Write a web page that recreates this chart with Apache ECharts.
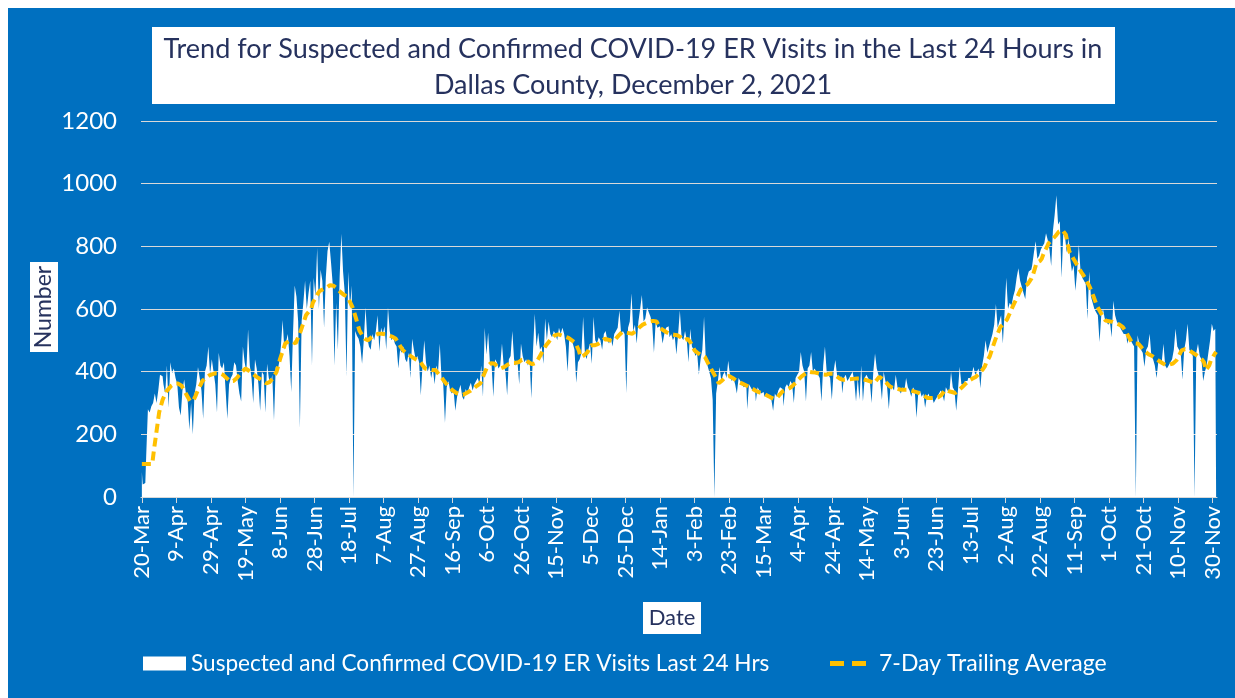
<!DOCTYPE html>
<html><head><meta charset="utf-8">
<script src="https://cdn.jsdelivr.net/npm/echarts@6/dist/echarts.min.js"></script>
<style>
html,body{margin:0;padding:0;background:#ffffff;width:1235px;height:698px;overflow:hidden}
#c{position:absolute;left:8px;top:8px;width:1227px;height:690px}
</style></head><body><div id="c"></div>
<script>
const startDate = '2020-03-20';
const dayCount = 623;
const tickLabels = ['20-Mar','9-Apr','29-Apr','19-May','8-Jun','28-Jun','18-Jul','7-Aug','27-Aug','16-Sep','6-Oct','26-Oct','15-Nov','5-Dec','25-Dec','14-Jan','3-Feb','23-Feb','15-Mar','4-Apr','24-Apr','14-May','3-Jun','23-Jun','13-Jul','2-Aug','22-Aug','11-Sep','1-Oct','21-Oct','10-Nov','30-Nov'];
const yTicks = [0, 200, 400, 600, 800, 1000, 1200];

const dailyVisits = [
80,40,45,130,280,270,290,300,330,300,
340,390,385,360,330,420,285,430,395,410,
380,360,285,260,340,375,330,310,215,300,
200,330,360,415,380,340,250,400,420,480,
390,440,400,360,270,460,420,410,430,340,
250,360,380,390,430,420,370,330,305,480,
430,400,535,420,380,300,440,410,360,275,
400,390,270,425,380,360,390,245,415,400,
430,480,565,470,495,520,450,335,520,675,
640,560,220,560,620,690,600,650,690,420,
700,640,795,600,725,690,540,700,785,815,
750,680,420,620,470,700,840,720,650,385,
720,600,675,0,530,515,505,480,425,500,
605,510,480,470,520,500,530,580,465,540,
520,545,470,605,530,500,510,490,480,410,
470,460,480,440,430,460,380,505,470,440,
450,430,325,420,500,430,400,420,380,410,
360,420,400,490,380,360,237,350,370,340,
330,340,275,320,340,358,320,310,345,330,
350,365,340,360,370,380,360,420,320,540,
455,525,430,420,320,440,430,410,420,490,
420,400,325,440,450,530,440,420,430,360,
490,450,430,440,420,440,315,470,585,480,
525,470,480,425,570,500,560,520,510,530,
520,500,540,520,540,520,480,400,510,500,
490,470,365,430,440,460,575,460,440,470,
490,425,575,500,490,510,500,470,520,530,
500,490,510,480,520,530,540,595,520,530,
520,332,540,560,650,530,550,490,560,600,
645,560,570,605,590,575,550,460,560,540,
545,530,490,520,540,545,510,520,500,515,
455,520,595,510,500,530,500,430,537,480,
470,450,460,390,440,470,575,440,420,400,
380,310,0,330,370,415,370,390,400,380,
435,390,370,380,360,330,380,370,360,350,
355,280,360,350,340,345,305,350,340,330,
335,320,330,315,320,310,275,330,320,340,
350,345,290,350,360,350,370,360,300,380,
390,400,463,420,400,305,410,420,463,400,
410,400,390,380,305,420,480,400,390,380,
310,400,437,390,380,385,330,380,390,370,
380,390,400,370,305,380,310,420,305,380,
390,380,370,300,400,458,410,390,370,310,
400,370,350,280,360,350,340,390,350,340,
330,350,340,380,350,340,320,350,340,253,
330,340,320,330,285,320,330,310,320,300,
310,320,330,340,330,305,350,340,330,400,
350,340,275,340,416,360,360,370,370,380,
380,390,416,390,400,410,347,420,450,500,
460,480,500,520,550,616,540,560,580,490,
590,700,600,620,610,640,660,700,730,690,
670,650,632,700,720,726,740,780,816,760,
770,790,800,810,842,820,790,737,850,900,
963,870,880,700,840,830,780,826,760,720,
740,658,720,805,720,700,690,680,568,720,
640,620,600,590,580,495,580,600,570,560,
550,560,510,626,580,560,550,540,530,520,
520,489,510,500,490,480,0,516,490,470,
460,416,470,480,521,450,440,420,380,430,
440,430,489,420,410,420,430,440,470,537,
480,470,460,375,470,500,553,470,460,450,
0,460,489,450,440,370,400,420,460,500,
553,530,537
];

const trailingAvg = [
105,105,105,105,105,105,105,150,190,230,
270,290,310,322,335,342,348,355,358,362,
365,362,358,355,345,335,325,315,305,307,
310,322,335,347,358,370,375,380,385,388,
390,392,395,395,395,395,395,390,385,380,
375,370,365,370,375,380,387,393,400,405,
410,407,403,400,395,390,385,382,378,374,
370,367,363,360,367,373,380,390,400,420,
440,457,473,490,493,497,500,497,493,490,
503,517,530,547,563,580,587,593,600,620,
630,640,650,658,660,663,665,668,672,676,
679,674,670,665,659,654,648,645,643,640,
628,617,605,588,570,550,531,522,513,505,
502,500,505,510,515,517,519,521,521,521,
521,519,517,515,513,512,510,505,495,487,
478,470,464,458,455,452,448,445,442,438,
435,432,425,417,410,408,407,405,405,405,
405,398,392,385,378,370,363,357,351,345,
340,336,332,331,329,328,326,329,332,335,
338,342,346,351,355,359,363,376,390,403,
416,421,427,432,426,420,416,412,411,410,
415,420,423,426,428,430,428,426,430,435,
438,442,438,434,430,427,424,421,428,435,
445,455,465,475,484,491,498,505,510,516,
521,519,518,516,514,512,510,508,505,500,
495,492,489,468,447,450,452,457,462,473,
484,484,484,484,488,491,495,500,505,503,
502,500,498,495,502,508,515,520,526,525,
525,524,523,522,521,526,530,535,541,547,
550,552,555,557,560,562,562,561,560,550,
540,536,532,528,525,522,520,519,518,517,
516,513,510,505,500,502,505,498,490,479,
468,464,459,455,452,449,447,436,425,415,
405,395,385,374,363,368,372,378,383,389,
386,383,380,376,372,368,366,363,361,358,
356,353,350,347,344,340,337,335,333,332,
330,327,324,321,318,316,313,311,318,325,
331,337,340,342,345,347,352,356,360,367,
374,379,385,390,393,397,400,399,398,397,
397,395,394,392,391,389,390,391,393,395,
393,390,387,383,378,374,374,375,375,376,
376,377,377,378,378,379,378,377,375,374,
372,370,368,365,363,370,377,384,380,375,
370,365,359,353,350,348,347,346,344,343,
342,342,342,342,342,341,339,337,335,334,
332,329,325,322,319,316,316,316,316,316,
316,318,322,326,330,342,340,338,337,335,
333,332,336,341,345,351,357,362,368,372,
376,378,381,384,390,395,400,408,416,430,
440,450,467,484,500,515,528,542,548,553,
553,567,580,592,605,617,628,640,652,663,
668,672,675,680,684,697,710,728,747,750,
753,760,775,787,798,810,815,821,826,833,
840,847,853,852,850,837,810,784,774,764,
755,745,736,726,717,709,700,689,679,668,
654,640,625,610,600,590,580,572,563,562,
561,560,559,558,555,553,550,546,542,537,
526,515,505,495,492,490,489,489,483,476,
470,464,458,455,453,450,446,442,438,434,
430,427,424,421,422,423,424,426,430,436,
445,457,468,470,472,474,470,466,462,458,
455,452,447,443,438,430,405,412,420,437,
446,455,463
];

const MONTHS = ['Jan','Feb','Mar','Apr','May','Jun','Jul','Aug','Sep','Oct','Nov','Dec'];
const t0 = Date.parse(startDate + 'T00:00:00Z');
const categories = [];
for (let i = 0; i < dayCount; i++) {
  const d = new Date(t0 + i * 86400000);
  categories.push(d.toISOString().slice(0, 10));
}
function shortLabel(iso) {
  const d = new Date(iso + 'T00:00:00Z');
  return d.getUTCDate() + '-' + MONTHS[d.getUTCMonth()];
}

const FONT = 'Lato';
const BLUE = '#0070C0';
const NAVY = '#26325E';
const SERIES_A = 'Suspected and Confirmed COVID-19 ER Visits Last 24 Hrs';
const SERIES_B = '7-Day Trailing Average';
const chart = echarts.init(document.getElementById('c'), null, {renderer: 'canvas'});
chart.setOption({
  animation: false,
  backgroundColor: BLUE,
  textStyle: {fontFamily: FONT},
  grid: {left: 133, right: 18, top: 113, bottom: 201, outerBoundsMode: 'none', containLabel: false},
  legend: [
    {
      data: [{name: SERIES_A, icon: 'path://M0,0H43V14H0Z'}],
      left: 135, top: 644, padding: 0, itemWidth: 43, itemHeight: 14,
      itemStyle: {color: '#ffffff', borderWidth: 0},
      lineStyle: {width: 0},
      textStyle: {color: '#ffffff', fontSize: 22.6, fontFamily: FONT},
      selectedMode: false
    },
    {
      data: [{name: SERIES_B, icon: 'path://M0,0H14V5H0Z M22,0H36V5H22Z'}],
      left: 822, top: 644, padding: 0, itemWidth: 36, itemHeight: 5,
      itemStyle: {color: '#FFC000', borderWidth: 0},
      lineStyle: {width: 0},
      textStyle: {color: '#ffffff', fontSize: 23, fontFamily: FONT, padding: [0, 0, 0, 8]},
      selectedMode: false
    }
  ],
  xAxis: {
    type: 'category',
    data: categories,
    boundaryGap: true,
    axisLine: {lineStyle: {color: '#D9D9D9', width: 1}},
    axisTick: {show: true, length: 6, alignWithLabel: true, interval: (i) => i % 20 === 0, lineStyle: {color: '#D9D9D9'}},
    axisLabel: {
      interval: (i) => i % 20 === 0,
      rotate: 90, margin: 9, color: '#ffffff', fontSize: 22, fontFamily: FONT,
      formatter: (v) => shortLabel(v)
    },
    splitLine: {show: false}
  },
  yAxis: {
    type: 'value', min: yTicks[0], max: yTicks[yTicks.length - 1], interval: 200,
    axisLine: {show: false}, axisTick: {show: false},
    axisLabel: {color: '#ffffff', fontSize: 24, margin: 24, fontFamily: FONT, formatter: (v) => String(v)},
    splitLine: {lineStyle: {color: '#D9D9D9', width: 1}}
  },
  series: [
    {
      name: SERIES_A,
      type: 'line',
      step: 'middle',
      data: dailyVisits,
      symbol: 'none',
      showSymbol: false,
      lineStyle: {width: 0, color: '#ffffff'},
      areaStyle: {color: '#ffffff', opacity: 1},
      itemStyle: {color: '#ffffff'},
      emphasis: {disabled: true},
      z: 2
    },
    {
      name: SERIES_B,
      type: 'line',
      data: trailingAvg,
      symbol: 'none',
      showSymbol: false,
      lineStyle: {color: '#FFC000', width: 4, type: [9, 5], cap: 'butt'},
      itemStyle: {color: '#FFC000'},
      emphasis: {disabled: true},
      z: 3
    }
  ],
  graphic: [
    {type: 'rect', shape: {x: 144, y: 19, width: 963, height: 77}, style: {fill: '#ffffff'}, z: 10},
    {type: 'text', x: 625, y: 41, style: {text: 'Trend for Suspected and Confirmed COVID-19 ER Visits in the Last 24 Hours in', fill: NAVY, font: '27px Lato', align: 'center', verticalAlign: 'middle'}, z: 11},
    {type: 'text', x: 625, y: 77, style: {text: 'Dallas County, December 2, 2021', fill: NAVY, font: '27px Lato', align: 'center', verticalAlign: 'middle'}, z: 11},
    {type: 'rect', shape: {x: 22, y: 254, width: 28, height: 90}, style: {fill: '#ffffff'}, z: 10},
    {type: 'text', x: 36, y: 299, rotation: Math.PI / 2, style: {text: 'Number', fill: NAVY, font: '23px Lato', align: 'center', verticalAlign: 'middle'}, z: 11},
    {type: 'rect', shape: {x: 635, y: 594, width: 58, height: 32}, style: {fill: '#ffffff'}, z: 10},
    {type: 'text', x: 664, y: 610, style: {text: 'Date', fill: NAVY, font: '22px Lato', align: 'center', verticalAlign: 'middle'}, z: 11}
  ]
});
</script>
</body></html>
